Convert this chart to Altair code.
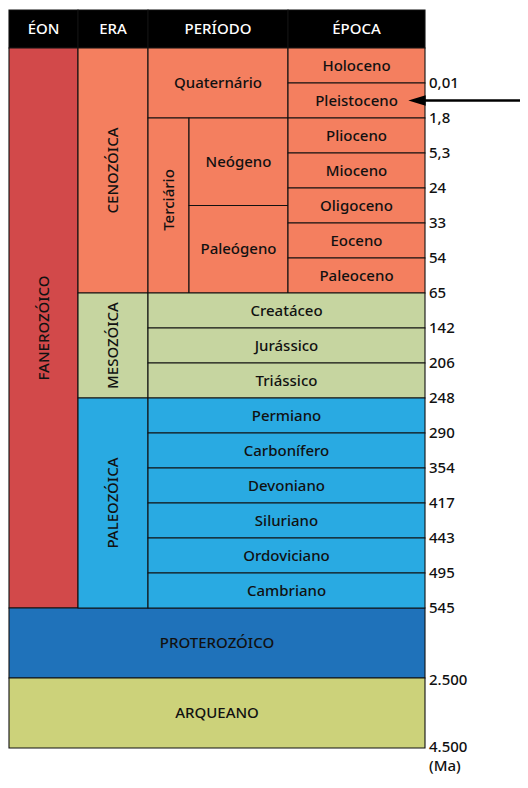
import altair as alt
import pandas as pd

# ---- data ----
cabecalho = ["ÉON", "ERA", "PERÍODO", "ÉPOCA"]
eons = ["FANEROZÓICO", "PROTEROZÓICO", "ARQUEANO"]
eras = ["CENOZÓICA", "MESOZÓICA", "PALEOZÓICA"]
periodos_ceno = ["Quaternário", "Terciário", "Neógeno", "Paleógeno"]
epocas = ["Holoceno", "Pleistoceno", "Plioceno", "Mioceno", "Oligoceno", "Eoceno", "Paleoceno"]
periodos_meso = ["Creatáceo", "Jurássico", "Triássico"]
periodos_paleo = ["Permiano", "Carbonífero", "Devoniano", "Siluriano", "Ordoviciano", "Cambriano"]
limites = ["0,01", "1,8", "5,3", "24", "33", "54", "65", "142", "206", "248",
           "290", "354", "417", "443", "495", "545", "2.500", "4.500"]
unidade = "(Ma)"

# ---- layout (reference pixel coordinates) ----
TOP_H, ROW0, U = 10, 48, 35.0
X0, XERA, XPER, XTER, XEPO, X1 = 9, 78, 148, 189, 288, 425
def r(i):
    return ROW0 + i * U

C_RED, C_ORA, C_GRN, C_BLU, C_DBL, C_YEL = "#d2494a", "#f47f5f", "#c6d5a0", "#29aae2", "#1f72ba", "#ccd27a"
INK = "#111111"

rects, texts, vtexts = [], [], []
def cell(x, x2, y, y2, color, label=None, vertical=False, lab_color=INK, ty=None):
    rects.append(dict(x=x, x2=x2, y=y, y2=y2, c=color))
    if label is not None:
        d = dict(x=(x + x2) / 2, y=(y + y2) / 2 if ty is None else ty, t=label, tc=lab_color)
        (vtexts if vertical else texts).append(d)

# header
hx = [X0, XERA, XPER, XEPO, X1]
for i, h in enumerate(cabecalho):
    cell(hx[i], hx[i + 1], TOP_H, ROW0, "#000000", h, lab_color="#ffffff")
# eons
cell(X0, XERA, r(0), r(16), C_RED, eons[0], vertical=True)
cell(X0, X1, r(16), r(18), C_DBL, eons[1])
cell(X0, X1, r(18), r(20), C_YEL, eons[2])
# eras
cell(XERA, XPER, r(0), r(7), C_ORA, eras[0], vertical=True)
cell(XERA, XPER, r(7), r(10), C_GRN, eras[1], vertical=True)
cell(XERA, XPER, r(10), r(16), C_BLU, eras[2], vertical=True)
# cenozoic periods
cell(XPER, XEPO, r(0), r(2), C_ORA, periodos_ceno[0])
cell(XPER, XTER, r(2), r(7), C_ORA, periodos_ceno[1], vertical=True, ty=r(2) + 82)
cell(XTER, XEPO, r(2), r(4.5), C_ORA, periodos_ceno[2])
cell(XTER, XEPO, r(4.5), r(7), C_ORA, periodos_ceno[3])
for i, e in enumerate(epocas):
    cell(XEPO, X1, r(i), r(i + 1), C_ORA, e)
for i, p in enumerate(periodos_meso):
    cell(XPER, X1, r(7 + i), r(8 + i), C_GRN, p)
for i, p in enumerate(periodos_paleo):
    cell(XPER, X1, r(10 + i), r(11 + i), C_BLU, p)

# boundary labels
lab_rows = list(range(1, 17)) + [18]
offs = {18: 2}
side = [dict(x=X1 + 4, y=r(k) + offs.get(k, 0), t=t) for k, t in zip(lab_rows, limites[:-1])]
last = pd.DataFrame([dict(x=X1 + 4, y=r(20) - 8, t=limites[-1] + "\n" + unidade)])

df_r = pd.DataFrame(rects)
df_t = pd.DataFrame(texts)
df_v = pd.DataFrame(vtexts)
df_s = pd.DataFrame(side)

xs = alt.Scale(domain=[8, 520], nice=False, zero=False)
ys = alt.Scale(domain=[8, 780], nice=False, zero=False, reverse=True)
X = lambda f: alt.X(f, type="quantitative", scale=xs, axis=None)
Y = lambda f: alt.Y(f, type="quantitative", scale=ys, axis=None)
FONT = "Noto Sans"
FS = 15
FW = 500

base_r = alt.Chart(df_r).mark_rect(stroke=INK, strokeWidth=1.1).encode(
    x=X("x"), x2="x2", y=Y("y"), y2="y2", color=alt.Color("c:N", scale=None))

txt = alt.Chart(df_t).mark_text(font=FONT, fontSize=FS, fontWeight=FW, baseline="middle").encode(
    x=X("x"), y=Y("y"), text="t:N", color=alt.Color("tc:N", scale=None))
vtxt = alt.Chart(df_v).mark_text(font=FONT, fontSize=FS, fontWeight=FW, baseline="middle", angle=270).encode(
    x=X("x"), y=Y("y"), text="t:N", color=alt.Color("tc:N", scale=None))
stxt = alt.Chart(df_s).mark_text(font=FONT, fontSize=FS, fontWeight=FW, baseline="middle",
                                  align="left", color=INK).encode(
    x=X("x"), y=Y("y"), text="t:N")
ltxt = alt.Chart(last).mark_text(font=FONT, fontSize=FS, fontWeight=FW, baseline="top",
                                 align="left", color=INK, lineBreak="\n", lineHeight=19).encode(
    x=X("x"), y=Y("y"), text="t:N")

# arrow pointing at Pleistoceno
ay = (r(1) + r(2)) / 2
arr = pd.DataFrame([dict(x=X1, x2=520, y=ay)])
arrow_line = alt.Chart(arr).mark_rule(color="#000000", strokeWidth=2.5).encode(
    x=X("x"), x2="x2", y=Y("y"))
head = pd.DataFrame([dict(x=X1 - 8, y=ay)])
arrow_head = alt.Chart(head).mark_point(
    shape="M-1,0L1,-0.6L1,0.6Z", size=300, filled=True, color="#000000", opacity=1).encode(
    x=X("x"), y=Y("y"))

chart = alt.layer(base_r, txt, vtxt, stxt, ltxt, arrow_line, arrow_head).properties(
    width=512, height=772, padding=0, autosize=alt.AutoSizeParams(type="none")
).configure_view(stroke=None)

chart.save("out.html", embed_options={"renderer": "svg", "actions": False})
